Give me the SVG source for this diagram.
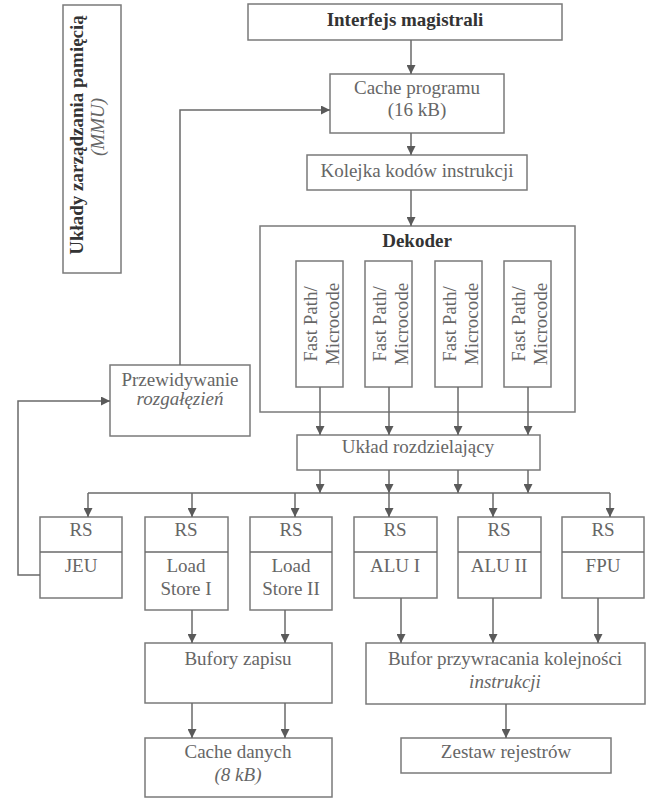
<svg xmlns="http://www.w3.org/2000/svg" width="667" height="800" viewBox="0 0 667 800">
<style>
.box{fill:#fff;stroke:#7a7a7a;stroke-width:1.5}
.ln{fill:none;stroke:#6a6a6a;stroke-width:1.5}
.t{font-family:"Liberation Serif","Times New Roman",serif;font-size:19px;fill:#666;text-anchor:middle}
.b{font-weight:bold;fill:#333}
.i{font-style:italic}
</style>
<defs>
<marker id="ah" viewBox="0 0 10 10" refX="10" refY="5" markerWidth="9" markerHeight="9" markerUnits="userSpaceOnUse" orient="auto">
<path d="M0,0 L10,5 L0,10 z" fill="#5a5a5a"/>
</marker>
</defs>
<rect width="667" height="800" fill="#fff"/>

<g id="mmu">
<rect class="box" x="63" y="5" width="58" height="268"/>
<text class="t b" transform="translate(83,135) rotate(-90)">Układy zarządzania pamięcią</text>
<text class="t i" transform="translate(104,127) rotate(-90)">(MMU)</text>
</g>

<g id="interfejs">
<rect class="box" x="248" y="4" width="314" height="36"/>
<text class="t b" x="405" y="26">Interfejs magistrali</text>
</g>

<g id="cache-programu">
<rect class="box" x="330" y="74" width="174" height="59"/>
<text class="t" x="417" y="94">Cache programu</text>
<text class="t" x="417" y="116">(16 kB)</text>
</g>

<g id="kolejka">
<rect class="box" x="307" y="155" width="220" height="35"/>
<text class="t" x="417" y="177">Kolejka kodów instrukcji</text>
</g>

<g id="dekoder">
<rect class="box" x="260" y="226" width="315" height="186"/>
<text class="t b" x="417" y="247">Dekoder</text>
</g>

<g id="fp1">
<rect class="box" x="296" y="261" width="47" height="126"/>
<text class="t" transform="translate(317,324) rotate(-90)">Fast Path/</text>
<text class="t" transform="translate(339,324) rotate(-90)">Microcode</text>
</g>
<g id="fp2">
<rect class="box" x="365" y="261" width="47" height="126"/>
<text class="t" transform="translate(386,324) rotate(-90)">Fast Path/</text>
<text class="t" transform="translate(408,324) rotate(-90)">Microcode</text>
</g>
<g id="fp3">
<rect class="box" x="435" y="261" width="47" height="126"/>
<text class="t" transform="translate(456,324) rotate(-90)">Fast Path/</text>
<text class="t" transform="translate(478,324) rotate(-90)">Microcode</text>
</g>
<g id="fp4">
<rect class="box" x="504" y="261" width="47" height="126"/>
<text class="t" transform="translate(525,324) rotate(-90)">Fast Path/</text>
<text class="t" transform="translate(547,324) rotate(-90)">Microcode</text>
</g>

<g id="uklad">
<rect class="box" x="297" y="435" width="243" height="35"/>
<text class="t" x="418" y="453">Układ rozdzielający</text>
</g>

<g id="przewidywanie">
<rect class="box" x="110" y="365" width="140" height="71"/>
<text class="t" x="180" y="386">Przewidywanie</text>
<text class="t i" x="180" y="405">rozgałęzień</text>
</g>

<g id="jeu">
<rect class="box" x="40" y="517" width="82" height="81"/>
<line class="ln" x1="40" y1="552" x2="122" y2="552"/>
<text class="t" x="81" y="536">RS</text>
<text class="t" x="81" y="572">JEU</text>
</g>
<g id="ls1">
<rect class="box" x="145" y="517" width="83" height="93"/>
<line class="ln" x1="145" y1="552" x2="228" y2="552"/>
<text class="t" x="186" y="536">RS</text>
<text class="t" x="186" y="572">Load</text>
<text class="t" x="186" y="595">Store I</text>
</g>
<g id="ls2">
<rect class="box" x="250" y="517" width="82" height="93"/>
<line class="ln" x1="250" y1="552" x2="332" y2="552"/>
<text class="t" x="291" y="536">RS</text>
<text class="t" x="291" y="572">Load</text>
<text class="t" x="291" y="595">Store II</text>
</g>
<g id="alu1">
<rect class="box" x="354" y="517" width="83" height="81"/>
<line class="ln" x1="354" y1="552" x2="437" y2="552"/>
<text class="t" x="395" y="536">RS</text>
<text class="t" x="395" y="572">ALU I</text>
</g>
<g id="alu2">
<rect class="box" x="458" y="517" width="83" height="81"/>
<line class="ln" x1="458" y1="552" x2="541" y2="552"/>
<text class="t" x="499" y="536">RS</text>
<text class="t" x="499" y="572">ALU II</text>
</g>
<g id="fpu">
<rect class="box" x="562" y="517" width="82" height="81"/>
<line class="ln" x1="562" y1="552" x2="644" y2="552"/>
<text class="t" x="603" y="536">RS</text>
<text class="t" x="603" y="572">FPU</text>
</g>

<g id="bufory">
<rect class="box" x="145" y="643" width="187" height="60"/>
<text class="t" x="238" y="665">Bufory zapisu</text>
</g>
<g id="cache-danych">
<rect class="box" x="145" y="738" width="187" height="59"/>
<text class="t" x="238" y="758">Cache danych</text>
<text class="t i" x="238" y="781">(8 kB)</text>
</g>
<g id="bufor-przywracania">
<rect class="box" x="366" y="643" width="279" height="61"/>
<text class="t" x="505" y="665">Bufor przywracania kolejności</text>
<text class="t i" x="505" y="688">instrukcji</text>
</g>
<g id="zestaw">
<rect class="box" x="401" y="738" width="210" height="35"/>
<text class="t" x="506" y="758">Zestaw rejestrów</text>
</g>

<g id="connectors">
<line class="ln" x1="411" y1="40" x2="411" y2="74" marker-end="url(#ah)"/>
<line class="ln" x1="411" y1="133" x2="411" y2="155" marker-end="url(#ah)"/>
<line class="ln" x1="411" y1="190" x2="411" y2="226" marker-end="url(#ah)"/>
<line class="ln" x1="320" y1="387" x2="320" y2="435" marker-end="url(#ah)"/>
<line class="ln" x1="389" y1="387" x2="389" y2="435" marker-end="url(#ah)"/>
<line class="ln" x1="458" y1="387" x2="458" y2="435" marker-end="url(#ah)"/>
<line class="ln" x1="528" y1="387" x2="528" y2="435" marker-end="url(#ah)"/>
<line class="ln" x1="320" y1="470" x2="320" y2="493" marker-end="url(#ah)"/>
<line class="ln" x1="389" y1="470" x2="389" y2="493" marker-end="url(#ah)"/>
<line class="ln" x1="458" y1="470" x2="458" y2="493" marker-end="url(#ah)"/>
<line class="ln" x1="528" y1="470" x2="528" y2="493" marker-end="url(#ah)"/>
<line class="ln" x1="88" y1="493" x2="610" y2="493"/>
<line class="ln" x1="88" y1="493" x2="88" y2="517" marker-end="url(#ah)"/>
<line class="ln" x1="192" y1="493" x2="192" y2="517" marker-end="url(#ah)"/>
<line class="ln" x1="295" y1="493" x2="295" y2="517" marker-end="url(#ah)"/>
<line class="ln" x1="389" y1="493" x2="389" y2="517" marker-end="url(#ah)"/>
<line class="ln" x1="493" y1="493" x2="493" y2="517" marker-end="url(#ah)"/>
<line class="ln" x1="610" y1="493" x2="610" y2="517" marker-end="url(#ah)"/>
<polyline class="ln" points="40,575 18,575 18,401 110,401" marker-end="url(#ah)"/>
<polyline class="ln" points="180,365 180,110 330,110" marker-end="url(#ah)"/>
<line class="ln" x1="192" y1="610" x2="192" y2="643" marker-end="url(#ah)"/>
<line class="ln" x1="285" y1="610" x2="285" y2="643" marker-end="url(#ah)"/>
<line class="ln" x1="192" y1="703" x2="192" y2="738" marker-end="url(#ah)"/>
<line class="ln" x1="285" y1="703" x2="285" y2="738" marker-end="url(#ah)"/>
<line class="ln" x1="401" y1="598" x2="401" y2="643" marker-end="url(#ah)"/>
<line class="ln" x1="493" y1="598" x2="493" y2="643" marker-end="url(#ah)"/>
<line class="ln" x1="598" y1="598" x2="598" y2="643" marker-end="url(#ah)"/>
<line class="ln" x1="506" y1="704" x2="506" y2="738" marker-end="url(#ah)"/>
</g>
</svg>
